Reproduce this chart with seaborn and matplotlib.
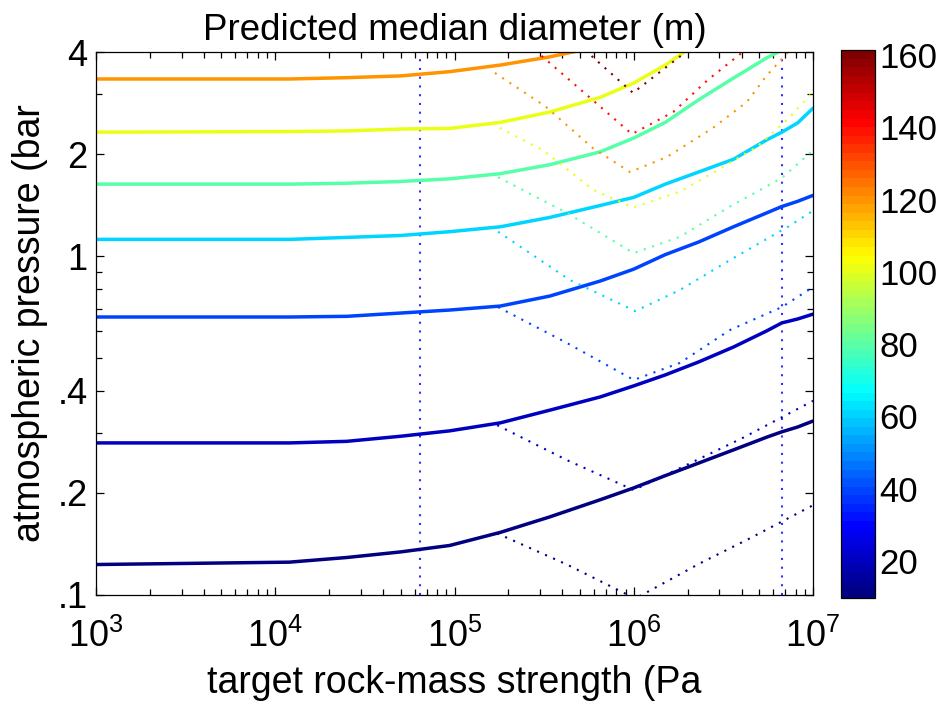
import pandas as pd
import seaborn as sns
import matplotlib.pyplot as plt
from matplotlib.colors import Normalize, LinearSegmentedColormap
from matplotlib.cm import ScalarMappable
from matplotlib.ticker import FixedLocator, FixedFormatter, NullFormatter

sns.set_style('ticks')
plt.rcParams['font.family'] = ['Liberation Sans', 'DejaVu Sans']
plt.rcParams['mathtext.fontset'] = 'custom'
plt.rcParams['mathtext.rm'] = 'Liberation Sans'
plt.rcParams['mathtext.it'] = 'Liberation Sans:italic'
plt.rcParams['mathtext.bf'] = 'Liberation Sans:bold'
for k in ['text.color', 'axes.labelcolor', 'xtick.color', 'ytick.color']:
    plt.rcParams[k] = 'black'

# 读图得到的数据: 强度 (Pa), 压力 (bar), 等值线直径 (m)
strength = [1e3, 1.2e4, 2.5e4, 5e4, 9.4e4, 1.8e5, 3.4e5, 6.5e5, 1e6, 1.5e6,
            2.3e6, 3.6e6, 5.5e6, 6.7e6, 8.2e6, 1e7]
p10 = [0.123, 0.125, 0.129, 0.134, 0.140, 0.153, 0.170, 0.191, 0.207, 0.225,
       0.245, 0.268, 0.292, 0.303, 0.313, 0.326]
p20 = [0.281, 0.281, 0.284, 0.294, 0.305, 0.322, 0.351, 0.384, 0.414, 0.446,
       0.487, 0.539, 0.601, 0.635, 0.652, 0.674]
p40 = [0.661, 0.661, 0.664, 0.679, 0.693, 0.712, 0.762, 0.844, 0.915, 1.01,
       1.10, 1.22, 1.34, 1.40, 1.45, 1.51]
p60 = [1.12, 1.12, 1.135, 1.15, 1.18, 1.22, 1.30, 1.41, 1.49, 1.63,
       1.77, 1.93, 2.20, 2.32, 2.47, 2.73]
p80 = [1.63, 1.63, 1.64, 1.66, 1.69, 1.75, 1.86, 2.03, 2.23, 2.48,
       2.89, 3.35, 3.84, 4.05]
x100 = strength[:10] + [2.06e6]
p100 = [2.32, 2.33, 2.34, 2.37, 2.38, 2.48, 2.66, 2.94, 3.24, 3.66, 4.11]
x120 = strength[:6] + [3.4e5, 5.0e5]
p120 = [3.33, 3.33, 3.36, 3.40, 3.50, 3.66, 3.87, 4.04]

# 虚线 (V 形)
dx10 = [1.73e5, 4.24e5, 1.02e6, 2.34e6, 4.45e6, 1e7]
dp10 = [0.152, 0.123, 0.0976, 0.124, 0.147, 0.184]
dx20 = [1.73e5, 4.24e5, 1e6, 1.88e6, 4.02e6, 1e7]
dp20 = [0.317, 0.250, 0.204, 0.239, 0.290, 0.374]
dx40 = [1.75e5, 4.24e5, 1e6, 1.81e6, 3.44e6, 6.7e6, 1e7]
dp40 = [0.707, 0.554, 0.431, 0.484, 0.605, 0.707, 0.810]
dx60 = [1.75e5, 4.4e5, 1.02e6, 1.81e6, 3.44e6, 7.25e6, 1e7]
dp60 = [1.18, 0.85, 0.688, 0.794, 0.973, 1.22, 1.36]
dx80 = [1.75e5, 4.24e5, 1e6, 1.81e6, 3.44e6, 6.7e6, 1e7]
dp80 = [1.71, 1.34, 1.02, 1.14, 1.40, 1.70, 2.05]
dx100 = [1.79e5, 3.12e5, 5.93e5, 9.9e5, 1.81e6, 2.77e6, 4.87e6, 7.16e6, 1e7]
dp100 = [2.39, 2.05, 1.57, 1.39, 1.55, 1.76, 2.10, 2.52, 3.05]
dx120 = [1.68e5, 3.2e5, 5.93e5, 9.53e5, 1.53e6, 2.77e6, 4.28e6, 5.54e6, 7.44e6]
dp120 = [3.47, 2.77, 2.08, 1.77, 1.96, 2.39, 2.85, 3.42, 4.05]
dx140 = [2.81e5, 4.58e5, 9.77e5, 1.66e6, 2.59e6, 4.18e6]
dp140 = [4.05, 3.24, 2.29, 2.66, 3.31, 4.05]
dx160 = [5.35e5, 9.9e5, 2.01e6]
dp160 = [4.05, 3.03, 4.05]

vlines = [6.42e4, 6.71e6]
cbar_ticks = [20, 40, 60, 80, 100, 120, 140, 160]
yticks = [0.1, 0.2, 0.4, 1, 2, 4]
yticklabels = ['.1', '.2', '.4', '1', '2', '4']
yminor = [0.3, 0.5, 0.6, 0.7, 0.8, 0.9, 3]

curves = [
    ('s10', 10, 'solid', strength, p10),
    ('s20', 20, 'solid', strength, p20),
    ('s40', 40, 'solid', strength, p40),
    ('s60', 60, 'solid', strength, p60),
    ('s80', 80, 'solid', strength[:14], p80),
    ('s100', 100, 'solid', x100, p100),
    ('s120', 120, 'solid', x120, p120),
    ('d10', 10, 'dotted', dx10, dp10),
    ('d20', 20, 'dotted', dx20, dp20),
    ('d40', 40, 'dotted', dx40, dp40),
    ('d60', 60, 'dotted', dx60, dp60),
    ('d80', 80, 'dotted', dx80, dp80),
    ('d100', 100, 'dotted', dx100, dp100),
    ('d120', 120, 'dotted', dx120, dp120),
    ('d140', 140, 'dotted', dx140, dp140),
    ('d160', 160, 'dotted', dx160, dp160),
]
rows = []
for name, level, kind, xs, ys in curves:
    for x, y in zip(xs, ys):
        rows.append({'curve': name, 'level': level, 'kind': kind,
                     'strength': x, 'pressure': y})
df = pd.DataFrame(rows)

# MATLAB 风格的 jet 色图 (64 色)
jet_segments = {
    'red': [(0, 0, 0), (0.375, 0, 0), (0.625, 1, 1), (0.875, 1, 1), (1, 0.5, 0.5)],
    'green': [(0, 0, 0), (0.125, 0, 0), (0.375, 1, 1), (0.625, 1, 1),
              (0.875, 0, 0), (1, 0, 0)],
    'blue': [(0, 0.5, 0.5), (0.125, 1, 1), (0.375, 1, 1), (0.625, 0, 0), (1, 0, 0)],
}
cmap = LinearSegmentedColormap('matlab_jet', jet_segments, N=64)
norm = Normalize(9.7, 161.4)

fig = plt.figure(figsize=(9.46, 7.11), dpi=100)
ax = fig.add_axes([96 / 946, 1 - 595 / 711, 717 / 946, 543 / 711])
cax = fig.add_axes([841 / 946, 1 - 598 / 711, 34 / 946, 548 / 711])

for v in vlines:
    ax.axvline(v, color='#3030ff', lw=1.5, ls=(0, (1, 3.2)))

sns.lineplot(data=df[df['kind'] == 'solid'], x='strength', y='pressure',
             hue='level', units='curve', estimator=None, sort=False,
             palette=cmap, hue_norm=norm, lw=2.5, legend=False, ax=ax)
sns.lineplot(data=df[df['kind'] == 'dotted'], x='strength', y='pressure',
             hue='level', units='curve', estimator=None, sort=False,
             palette=cmap, hue_norm=norm, lw=1.5, ls=(0, (1, 3.2)),
             legend=False, ax=ax)

ax.set_xscale('log')
ax.set_yscale('log')
ax.set_xlim(1e3, 1e7)
ax.set_ylim(0.1, 4)
ax.yaxis.set_major_locator(FixedLocator(yticks))
ax.yaxis.set_major_formatter(FixedFormatter(yticklabels))
ax.yaxis.set_minor_locator(FixedLocator(yminor))
ax.yaxis.set_minor_formatter(NullFormatter())
ax.tick_params(which='both', direction='in', top=True, right=True,
               labelsize=26, color='black', width=0.9)
ax.tick_params(which='major', length=6)
ax.tick_params(which='minor', length=4)
ax.tick_params(axis='x', pad=17)
ax.tick_params(axis='y', pad=6)
for sp in ax.spines.values():
    sp.set_color('black')
    sp.set_linewidth(0.9)

ax.set_xlabel('target rock-mass strength (Pa', fontsize=27, labelpad=7)
ax.set_ylabel('atmospheric pressure (bar', fontsize=27, labelpad=7)
ax.set_title('Predicted median diameter (m)', fontsize=26.5, pad=9)

cb = fig.colorbar(ScalarMappable(norm=norm, cmap=cmap), cax=cax,
                  ticks=cbar_ticks)
cax.tick_params(direction='in', length=5, width=0.9, left=True, right=True,
                labelsize=25, pad=3, color='black')
cb.outline.set_linewidth(0.9)
cb.outline.set_edgecolor('black')

plt.savefig('out.png', dpi=100)
